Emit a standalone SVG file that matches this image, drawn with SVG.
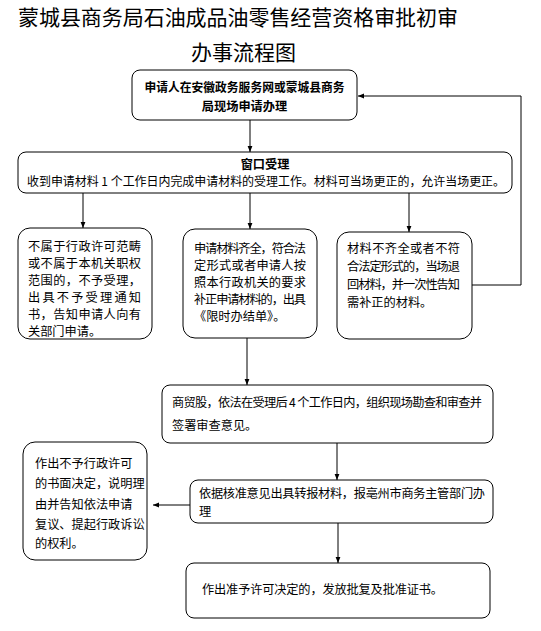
<svg xmlns="http://www.w3.org/2000/svg" width="541" height="631" viewBox="0 0 541 631">
<defs>
<marker id="ah" viewBox="0 0 10 10" refX="10" refY="5" markerWidth="6" markerHeight="6" markerUnits="userSpaceOnUse" orient="auto">
<path d="M0,1 L10,5 L0,9 z" fill="#000"/>
</marker>
<style>
.box{fill:#fff;stroke:#000;stroke-width:1}
.t{font-family:"Noto Sans CJK SC","Liberation Sans",sans-serif;font-size:12.2px;fill:#000}
.b{font-weight:bold}
.title{font-family:"Noto Sans CJK SC",sans-serif;font-size:21px;fill:#000}
.c{fill:none;stroke:#000;stroke-width:1;marker-end:url(#ah)}
</style>
</defs>
<rect width="541" height="631" fill="#fff"/>
<g id="title">
<text class="title" x="18" y="25" textLength="440" lengthAdjust="spacing">蒙城县商务局石油成品油零售经营资格审批初审</text>
<text class="title" x="191" y="60" textLength="105" lengthAdjust="spacing">办事流程图</text>
</g>
<g id="connectors">
<line class="c" x1="250" y1="120" x2="250" y2="152"/>
<polyline class="c" points="472,285 521,285 521,96 358,96"/>
<line class="c" x1="83" y1="193" x2="83" y2="228"/>
<line class="c" x1="250" y1="193" x2="250" y2="229"/>
<line class="c" x1="409" y1="193" x2="409" y2="232"/>
<line class="c" x1="247" y1="338" x2="247" y2="385"/>
<line class="c" x1="337" y1="443" x2="337" y2="480"/>
<line class="c" x1="190" y1="505" x2="153" y2="505"/>
<line class="c" x1="338" y1="523" x2="338" y2="563"/>
</g>
<g id="n1">
<rect class="box" x="132" y="70" width="225" height="50" rx="8"/>
<text class="t b" x="244.5" y="92" text-anchor="middle" textLength="200" lengthAdjust="spacingAndGlyphs">申请人在安徽政务服务网或蒙城县商务</text>
<text class="t b" x="244.5" y="111" text-anchor="middle">局现场申请办理</text>
</g>
<g id="n2">
<rect class="box" x="18" y="152" width="494" height="41" rx="8"/>
<text class="t b" x="265" y="169" text-anchor="middle">窗口受理</text>
<text class="t" x="27" y="186" textLength="478" lengthAdjust="spacingAndGlyphs">收到申请材料 1 个工作日内完成申请材料的受理工作。材料可当场更正的，允许当场更正。</text>
</g>
<g id="n3">
<rect class="box" x="18" y="228" width="134" height="111" rx="12"/>
<text class="t" x="28" y="251" textLength="113">不属于行政许可范畴</text>
<text class="t" x="28" y="268" textLength="113">或不属于本机关职权</text>
<text class="t" x="28" y="285" textLength="113">范围的，不予受理，</text>
<text class="t" x="28" y="302" textLength="113">出具不予受理通知</text>
<text class="t" x="28" y="319" textLength="113">书，告知申请人向有</text>
<text class="t" x="28" y="336">关部门申请。</text>
</g>
<g id="n4">
<rect class="box" x="183" y="229" width="134" height="109" rx="12"/>
<text class="t" x="194" y="253" textLength="112">申请材料齐全，符合法</text>
<text class="t" x="194" y="270" textLength="112">定形式或者申请人按</text>
<text class="t" x="194" y="287" textLength="112">照本行政机关的要求</text>
<text class="t" x="194" y="304" textLength="112">补正申请材料的，出具</text>
<text class="t" x="194" y="321">《限时办结单》。</text>
</g>
<g id="n5">
<rect class="box" x="337" y="232" width="135" height="107" rx="12"/>
<text class="t" x="347" y="253" textLength="113">材料不齐全或者不符</text>
<text class="t" x="347" y="271" textLength="113">合法定形式的，当场退</text>
<text class="t" x="347" y="289" textLength="113">回材料，并一次性告知</text>
<text class="t" x="347" y="307">需补正的材料。</text>
</g>
<g id="n6">
<rect class="box" x="162" y="385" width="331" height="58" rx="8"/>
<text class="t" x="172" y="407" textLength="310">商贸股，依法在受理后 4 个工作日内，组织现场勘查和审查并</text>
<text class="t" x="172" y="430">签署审查意见。</text>
</g>
<g id="n7">
<rect class="box" x="190" y="480" width="303" height="43" rx="8"/>
<text class="t" x="199" y="498" textLength="286">依据核准意见出具转报材料，报亳州市商务主管部门办</text>
<text class="t" x="199" y="516">理</text>
</g>
<g id="n8">
<rect class="box" x="23" y="442" width="124" height="118" rx="12"/>
<text class="t" x="35" y="468">作出不予行政许可</text>
<text class="t" x="35" y="488">的书面决定，说明理</text>
<text class="t" x="35" y="509">由并告知依法申请</text>
<text class="t" x="35" y="529">复议、提起行政诉讼</text>
<text class="t" x="35" y="548">的权利。</text>
</g>
<g id="n9">
<rect class="box" x="186" y="563" width="304" height="55" rx="8"/>
<text class="t" x="202" y="594" textLength="241">作出准予许可决定的，发放批复及批准证书。</text>
</g>
</svg>
